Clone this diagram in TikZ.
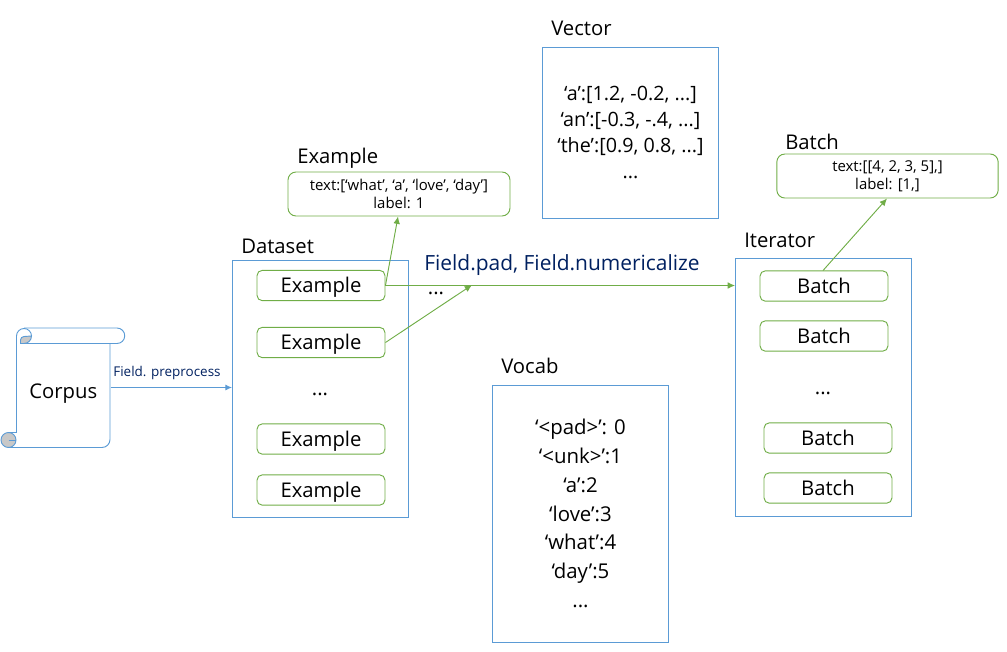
\documentclass[tikz,border=0pt]{standalone}
\usepackage{fontspec}
\setmainfont{Open Sans}
\definecolor{boxblue}{HTML}{5B9BD5}
\definecolor{boxgreen}{HTML}{70AD47}
\definecolor{labelnavy}{HTML}{002060}
\definecolor{curlgray}{HTML}{C8C8C8}
\usetikzlibrary{arrows.meta}

\begin{document}
\begin{tikzpicture}[x=0.75pt,y=-0.75pt]
\tikzstyle{panel}=[rectangle,draw=boxblue,line width=0.7pt,minimum width=132.5pt,inner sep=0pt]
\tikzstyle{record}=[rectangle,rounded corners=4pt,draw=boxgreen,line width=0.7pt,minimum width=96pt,minimum height=22.8pt,inner sep=0pt,text height=11pt,text depth=0pt,font=\fontsize{15.2}{17}\selectfont]
\tikzstyle{detail}=[rectangle,rounded corners=6pt,draw=boxgreen,line width=0.7pt,minimum height=33pt,inner sep=0pt,align=center,font=\fontsize{11.2}{13.8}\selectfont]
\tikzstyle{title}=[inner sep=0pt,font=\fontsize{15.2}{17}\selectfont,anchor=base west]
\tikzstyle{entries}=[inner sep=0pt,align=center,font=\fontsize{15.3}{21.6}\selectfont]
\tikzstyle{dots}=[inner sep=0pt,font=\fontsize{15.2}{17}\selectfont]
\tikzstyle{scrollline}=[draw=boxblue,line width=0.7pt]
\tikzstyle{bluearrow}=[draw=boxblue,line width=0.7pt,-{Latex[length=5pt,width=4.5pt]}]
\tikzstyle{greenarrow}=[draw=boxgreen,line width=0.7pt,-{Latex[length=5.5pt,width=5pt]}]
\useasboundingbox (0,0) rectangle (1007,651);

\node[panel,minimum height=192.8pt](Dataset) at (320.5,388.5) {};
\node[panel,minimum height=193.5pt](Iterator) at (823.5,387) {};
\node[panel,minimum height=128.3pt,entries,font=\fontsize{14.8}{19.5}\selectfont](Vector) at (630.5,132.5) {‘a’:[1.2, -0.2, ...]\\‘an’:[-0.3, -.4, ...]\\‘the’:[0.9, 0.8, ...]\\...};
\node[panel,minimum height=192.8pt,entries](Vocab) at (580.5,513.5) {‘<pad>’: 0\\‘<unk>’:1\\‘a’:2\\‘love’:3\\‘what’:4\\‘day’:5\\...};

\node[record](ExampleA) at (321,285.5) {Example};
\node[record](ExampleB) at (321,342.5) {Example};
\node[record](ExampleC) at (321,439) {Example};
\node[record](ExampleD) at (321,490) {Example};
\node[record](BatchA) at (824,286) {Batch};
\node[record](BatchB) at (824,336) {Batch};
\node[record](BatchC) at (828,438) {Batch};
\node[record](BatchD) at (828,488) {Batch};

\node[detail,minimum width=166.5pt](ExampleDetail) at (399,194) {text:[‘what’, ‘a’, ‘love’, ‘day’]\\label: 1};
\node[detail,minimum width=166pt](BatchDetail) at (887.5,176) {text:[[4, 2, 3, 5],]\\label: [1,]};

\node[title](DatasetTitle) at (241,253) {Dataset};
\node[title](IteratorTitle) at (744,247) {Iterator};
\node[title](VectorTitle) at (551,35) {Vector};
\node[title](VocabTitle) at (501,373) {Vocab};
\node[title](ExampleTitle) at (297,163) {Example};
\node[title](BatchTitle) at (785,149) {Batch};

\node[dots](DotsA) at (320,394) {...};
\node[dots](DotsB) at (823,393) {...};
\node[dots](DotsC) at (436,293) {...};

\node[inner sep=0pt,text=labelnavy,font=\fontsize{10.1}{12}\selectfont](PreprocessLabel) at (167,372.5) {Field. preprocess};
\node[inner sep=0pt,text=labelnavy,font=\fontsize{15.7}{18}\selectfont](PadLabel) at (562,265.5) {Field.pad, Field.numericalize};

\node[minimum width=70.5pt,minimum height=89.5pt,inner sep=0pt,text height=15.8pt,text depth=0pt,font=\fontsize{15.2}{17}\selectfont](Corpus) at (63.25,387.5) {Corpus};

\draw[scrollline] (24,328) -- (117,328) arc (-90:90:7.75) -- (24,343.5);
\draw[scrollline] (16.5,336) arc (180:360:7.5);
\draw[scrollline,fill=curlgray] (31.5,336) arc (0:90:7.5) -- (20.5,343.5) -- (20.5,340) arc (180:270:3.5) -- cycle;
\draw[scrollline] (16.5,336) -- (16.5,432.5);
\draw[scrollline] (110,343.5) -- (110,439.5) arc (0:90:8) -- (8.5,447.5);
\draw[scrollline,fill=curlgray] (8.5,440) circle (7.5);
\draw[scrollline] (8.5,432.5) -- (16.5,432.5);
\draw[scrollline] (8.5,440) -- (16,440);

\coordinate (ExampleDetailIn) at (398,216.5);
\coordinate (BatchDetailIn) at (887,198.5);
\coordinate (FreeEnd) at (472,285);
\coordinate (BatchAOut) at (823,270.5);
\coordinate (IteratorIn) at (735,285.5);
\coordinate (DatasetIn) at (232,387.5);

\draw[bluearrow] (Corpus.east) -- (DatasetIn);
\draw[greenarrow] (ExampleA.east) -- (IteratorIn);
\draw[greenarrow] (ExampleA.east) -- (ExampleDetailIn);
\draw[greenarrow] (ExampleB.east) -- (FreeEnd);
\draw[greenarrow] (BatchAOut) -- (BatchDetailIn);
\end{tikzpicture}
\end{document}
